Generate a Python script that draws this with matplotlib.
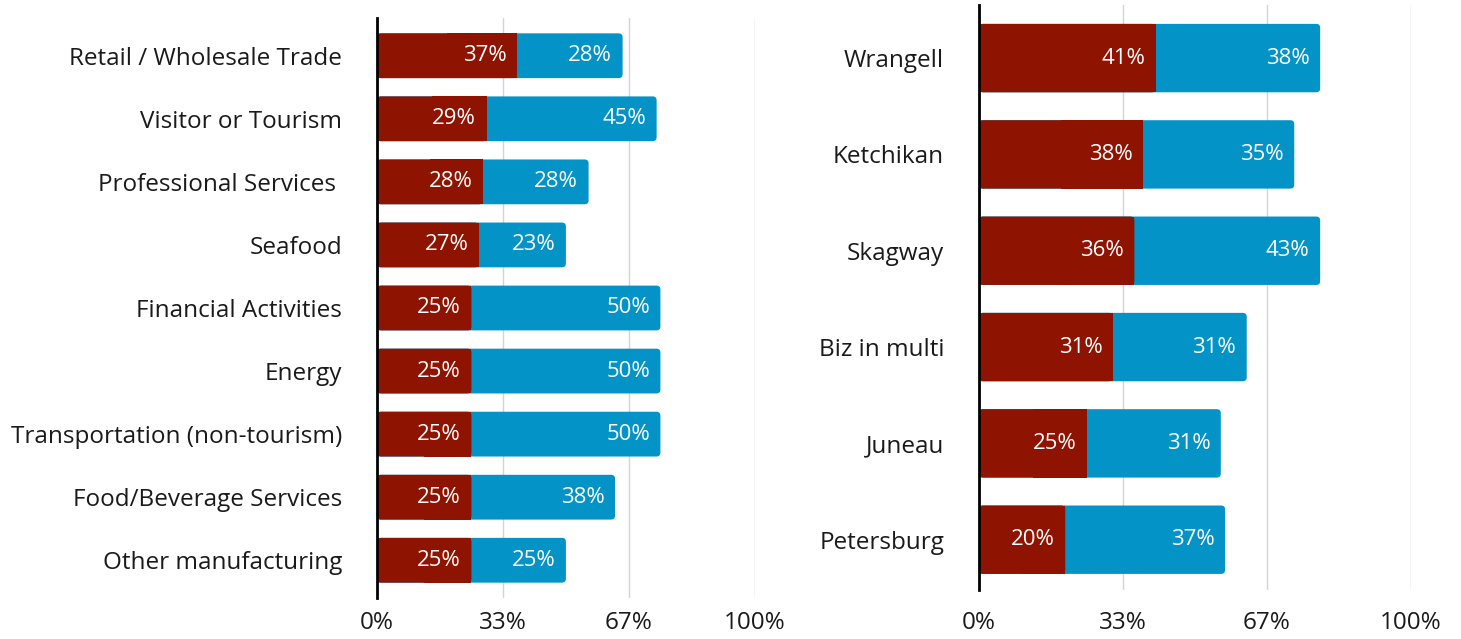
import matplotlib
matplotlib.use("Agg")
import matplotlib.pyplot as plt
from matplotlib.patches import FancyBboxPatch

plt.rcParams['font.family'] = ['Open Sans', 'DejaVu Sans']

# left panel: industries
industries = ["Retail / Wholesale Trade", "Visitor or Tourism", "Professional Services ",
              "Seafood", "Financial Activities", "Energy", "Transportation (non-tourism)",
              "Food/Beverage Services", "Other manufacturing"]
ind_red = [37, 29, 28, 27, 25, 25, 25, 25, 25]
ind_blue = [28, 45, 28, 23, 50, 50, 50, 38, 25]

# right panel: communities
towns = ["Wrangell", "Ketchikan", "Skagway", "Biz in multi", "Juneau", "Petersburg"]
town_red = [41, 38, 36, 31, 25, 20]
town_blue = [38, 35, 43, 31, 31, 37]

xticks = [0, 100 / 3, 200 / 3, 100]
xticklabels = ["0%", "33%", "67%", "100%"]

RED = "#8E1300"
BLUE = "#0393C6"
TXT = "#1a1a1a"


def rbar(ax, y, left, width, h, color, pxr):
    # rounded rectangle in data coords, corner radius ~pxr pixels
    bb = ax.get_window_extent()
    x0, x1 = ax.get_xlim()
    y0, y1 = ax.get_ylim()
    xs = bb.width / (x1 - x0)
    ys = bb.height / abs(y1 - y0)
    r = pxr / xs
    p = FancyBboxPatch((left, y - h / 2), width, h,
                       boxstyle=f"round,pad=0,rounding_size={r}",
                       mutation_aspect=xs / ys, fc=color, ec="none", zorder=3)
    ax.add_patch(p)


def panel(ax, cats, red, blue, barh_frac, ylim, xpad):
    ax.set_xlim(0, 100)
    ax.set_ylim(*ylim)
    n = len(cats)
    ys = list(range(n))
    for y, r, b in zip(ys, red, blue):
        rbar(ax, y, 0, r + b, barh_frac, BLUE, 4)
        rbar(ax, y, 0, r, barh_frac, RED, 4)
        ax.barh(y, r / 2, left=r / 2, height=barh_frac, color=RED, lw=0, zorder=3.5)
        ax.annotate(f"{r}%", (r, y), xytext=(-7.5, 0), textcoords="offset points",
                    ha="right", va="center", color="white", fontsize=16, zorder=5)
        ax.annotate(f"{b}%", (r + b, y), xytext=(-7.5, 0), textcoords="offset points",
                    ha="right", va="center", color="white", fontsize=16, zorder=5)
    ax.set_yticks(ys)
    ax.set_yticklabels(cats, fontsize=17.5, color=TXT)
    ax.set_xticks(xticks)
    ax.set_xticklabels(xticklabels, fontsize=17.5, color=TXT)
    ax.tick_params(axis="y", length=0, pad=25)
    ax.tick_params(axis="x", length=0, pad=xpad)
    for s in ["top", "right", "bottom"]:
        ax.spines[s].set_visible(False)
    ax.spines["left"].set_linewidth(2)
    ax.spines["left"].set_color("black")
    ax.spines["left"].set_zorder(6)
    ax.grid(axis="x", color="#d4d4d4", linewidth=1, zorder=0)
    ax.set_axisbelow(True)


fig = plt.figure(figsize=(14.61, 6.39), dpi=100)
ax1 = fig.add_axes([0.258, 0.064, 0.2587, 0.908])
ax2 = fig.add_axes([0.670, 0.077, 0.2957, 0.915])

ax1.set_xlim(0, 100); ax1.set_ylim(8.6, -0.6)
ax2.set_xlim(0, 100); ax2.set_ylim(5.52, -0.55)

panel(ax1, industries, ind_red, ind_blue, 0.71, (8.6, -0.6), 9)
panel(ax2, towns, town_red, town_blue, 0.71, (5.52, -0.55), 15)

fig.savefig("out.png", dpi=100)
